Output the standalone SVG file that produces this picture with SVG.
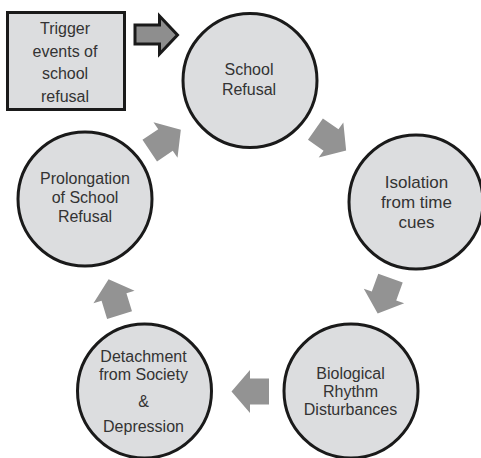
<svg xmlns="http://www.w3.org/2000/svg" width="481" height="458" viewBox="0 0 481 458">
<defs>
<style>
.node{fill:#dcdddf;stroke:#1a1a1a;stroke-width:3}
.lbl{font-family:"Liberation Sans",Arial,sans-serif;font-size:16px;fill:#333;text-anchor:middle}
.big{font-size:17px}
.blk{fill:#939393}
</style>
<polygon id="arr" points="-19,-13 0,-13 0,-21.5 18.5,0 0,21.5 0,13 -19,13"/>
</defs>
<rect width="481" height="458" fill="#fff"/>
<g id="trigger">
<rect class="node" x="7.5" y="12.5" width="117" height="97" stroke-width="2.5"/>
<text class="lbl" x="65" y="34">Trigger</text>
<text class="lbl" x="65" y="56.5">events of</text>
<text class="lbl" x="65" y="79">school</text>
<text class="lbl" x="65" y="101.5">refusal</text>
</g>
<g id="school-refusal">
<circle class="node" cx="250" cy="80.5" r="67"/>
<text class="lbl" x="249" y="75">School</text>
<text class="lbl" x="249" y="95">Refusal</text>
</g>
<g id="isolation">
<circle class="node" cx="416" cy="202" r="67"/>
<text class="lbl big" x="416.5" y="187.5">Isolation</text>
<text class="lbl big" x="416.5" y="208">from time</text>
<text class="lbl big" x="416.5" y="228">cues</text>
</g>
<g id="biological">
<circle class="node" cx="351" cy="391" r="67"/>
<text class="lbl" x="350.5" y="378.5">Biological</text>
<text class="lbl" x="350.5" y="397">Rhythm</text>
<text class="lbl" x="350.5" y="415">Disturbances</text>
</g>
<g id="detachment">
<circle class="node" cx="144.5" cy="391" r="67"/>
<text class="lbl" x="143.5" y="361.5">Detachment</text>
<text class="lbl" x="143.5" y="380">from Society</text>
<text class="lbl" x="143.5" y="406.5">&amp;</text>
<text class="lbl" x="143.5" y="431.5">Depression</text>
</g>
<g id="prolongation">
<circle class="node" cx="85" cy="199" r="67"/>
<text class="lbl" x="85" y="183.5">Prolongation</text>
<text class="lbl" x="85" y="202.5">of School</text>
<text class="lbl" x="85" y="221.5">Refusal</text>
</g>
<g id="connectors">
<polygon points="135,25 159.5,25 159.5,16 177.5,35 159.5,54 159.5,44 135,44" fill="#8e8e8e" stroke="#1a1a1a" stroke-width="3" stroke-linejoin="miter"/>
<use href="#arr" class="blk" transform="translate(331,140) rotate(35)"/>
<use href="#arr" class="blk" transform="translate(384,296) rotate(110)"/>
<use href="#arr" class="blk" transform="translate(250,391.5) rotate(180)"/>
<use href="#arr" class="blk" transform="translate(114,297) rotate(-107)"/>
<use href="#arr" class="blk" transform="translate(165.5,140) rotate(-34)"/>
</g>
</svg>
